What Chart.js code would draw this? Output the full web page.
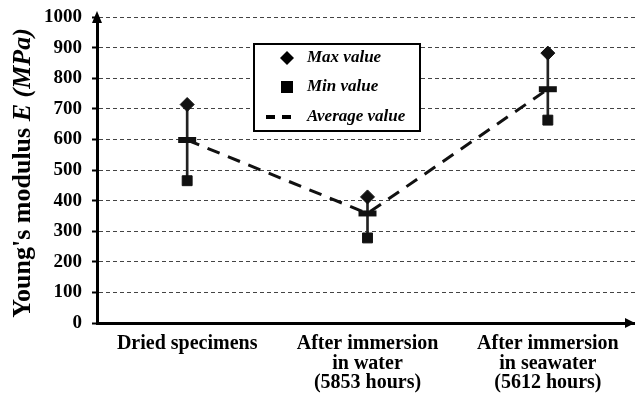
<!DOCTYPE html>
<html>
<head>
<meta charset="utf-8">
<script src="https://cdn.jsdelivr.net/npm/chart.js@4.4.1/dist/chart.umd.min.js"></script>
<style>
  body { margin: 0; background: #fff; }
  #wrap { width: 641px; height: 405px; }
</style>
</head>
<body>
<div id="wrap"><canvas id="grafica" width="641" height="405"></canvas></div>
<script>
// Datos
const categorias = [
    ["Dried specimens"],
    ["After immersion", "in water", "(5853 hours)"],
    ["After immersion", "in seawater", "(5612 hours)"]
];
const valorMax = [714, 412, 882];
const valorMin = [465, 278, 663];
const valorPromedio = [598, 358, 764];
const ticksY = [0, 100, 200, 300, 400, 500, 600, 700, 800, 900, 1000];

const SERIF = "'Liberation Serif', 'DejaVu Serif', serif";

// Titulo del eje Y, flechas y leyenda dibujados a mano
const extras = {
    id: "extras",
    afterDraw(chart) {
        const ctx = chart.ctx;
        const area = chart.chartArea;
        ctx.save();

        // flechas de los ejes
        ctx.fillStyle = "#000";
        ctx.beginPath();
        ctx.moveTo(area.left, area.top - 6);
        ctx.lineTo(area.left - 5, area.top + 6);
        ctx.lineTo(area.left + 5, area.top + 6);
        ctx.closePath();
        ctx.fill();
        ctx.fillStyle = "#fff";
        ctx.fillRect(area.right - 3, area.bottom - 3, 8, 6);
        ctx.fillStyle = "#000";
        ctx.beginPath();
        ctx.moveTo(area.right - 3, area.bottom);
        ctx.lineTo(area.right - 13, area.bottom - 5);
        ctx.lineTo(area.right - 13, area.bottom + 5);
        ctx.closePath();
        ctx.fill();

        // titulo eje Y
        ctx.translate(23, 173);
        ctx.rotate(-Math.PI / 2);
        ctx.textBaseline = "middle";
        const parte1 = "Young's modulus ";
        const parte2 = "E (MPa)";
        ctx.font = "bold 26px " + SERIF;
        const w1 = ctx.measureText(parte1).width;
        ctx.font = "italic bold 26px " + SERIF;
        const w2 = ctx.measureText(parte2).width;
        let x0 = -(w1 + w2) / 2;
        ctx.font = "bold 26px " + SERIF;
        ctx.fillText(parte1, x0, 0);
        ctx.font = "italic bold 26px " + SERIF;
        ctx.fillText(parte2, x0 + w1, 0);
        ctx.restore();

        // leyenda
        ctx.save();
        ctx.strokeStyle = "#000";
        ctx.lineWidth = 2;
        ctx.fillStyle = "#fff";
        ctx.fillRect(254, 44, 166, 87);
        ctx.strokeRect(254, 44, 166, 87);
        ctx.fillStyle = "#000";
        ctx.font = "italic bold 17px " + SERIF;
        ctx.textBaseline = "middle";
        // diamante
        ctx.beginPath();
        ctx.moveTo(287, 51); ctx.lineTo(294, 58); ctx.lineTo(287, 65); ctx.lineTo(280, 58);
        ctx.closePath();
        ctx.fill();
        ctx.fillText("Max value", 307, 58);
        // cuadrado
        ctx.fillRect(281, 81, 12, 12);
        ctx.fillText("Min value", 307, 87);
        // linea discontinua
        ctx.lineWidth = 4;
        ctx.setLineDash([9, 7]);
        ctx.beginPath();
        ctx.moveTo(266, 117); ctx.lineTo(296, 117);
        ctx.stroke();
        ctx.setLineDash([]);
        ctx.fillText("Average value", 307, 117);
        ctx.restore();
    }
};

let ctx = document.getElementById("grafica").getContext("2d");

let datos = {
    labels: categorias,
    datasets: [
        {
            type: "bar",
            label: "Rango",
            data: valorMin.map((v, i) => [v, valorMax[i]]),
            backgroundColor: "#222",
            barThickness: 2,
            order: 3
        },
        {
            type: "line",
            label: "Average value",
            data: valorPromedio,
            borderColor: "#111",
            borderWidth: 3,
            borderDash: [13, 9],
            pointStyle: "line",
            pointRadius: 9,
            pointBorderWidth: 6,
            pointBorderColor: "#111",
            fill: false,
            order: 2
        },
        {
            type: "line",
            label: "Max value",
            data: valorMax,
            showLine: false,
            pointStyle: "rectRot",
            pointRadius: 7,
            pointBackgroundColor: "#111",
            pointBorderColor: "#111",
            order: 1
        },
        {
            type: "line",
            label: "Min value",
            data: valorMin,
            showLine: false,
            pointStyle: "rect",
            pointRadius: 7,
            pointBackgroundColor: "#111",
            pointBorderColor: "#111",
            order: 1
        }
    ]
};

let config = {
    data: datos,
    options: {
        responsive: false,
        animation: false,
        layout: { autoPadding: false, padding: { top: 17, right: 3, left: 0, bottom: 0 } },
        plugins: {
            legend: { display: false },
            tooltip: { enabled: false }
        },
        scales: {
            x: {
                type: "category",
                offset: true,
                grid: { display: false, drawTicks: false },
                border: { display: true, color: "#000", width: 3 },
                ticks: {
                    color: "#000",
                    padding: 11,
                    maxRotation: 0,
                    font: { family: SERIF, size: 20, weight: "bold", lineHeight: 0.98 }
                },
                afterFit(scale) {
                    scale.height = 82;
                    scale.paddingLeft = 0;
                    scale.paddingRight = 0;
                }
            },
            y: {
                min: 0,
                max: 1000,
                afterBuildTicks(scale) { scale.ticks = ticksY.map(v => ({ value: v })); },
                grid: {
                    color: "#444",
                    lineWidth: 1,
                    tickColor: "#000",
                    tickLength: 5,
                    tickWidth: 2
                },
                border: { display: true, color: "#000", width: 3, dash: [4, 3] },
                ticks: {
                    color: "#000",
                    padding: 10,
                    callback: v => String(v),
                    font: { family: SERIF, size: 19, weight: "bold" }
                },
                afterFit(scale) {
                    scale.width = 97;
                    scale.paddingTop = 0;
                    scale.paddingBottom = 0;
                }
            }
        }
    },
    plugins: [extras]
};

let grafica = new Chart(ctx, config);
</script>
</body>
</html>
